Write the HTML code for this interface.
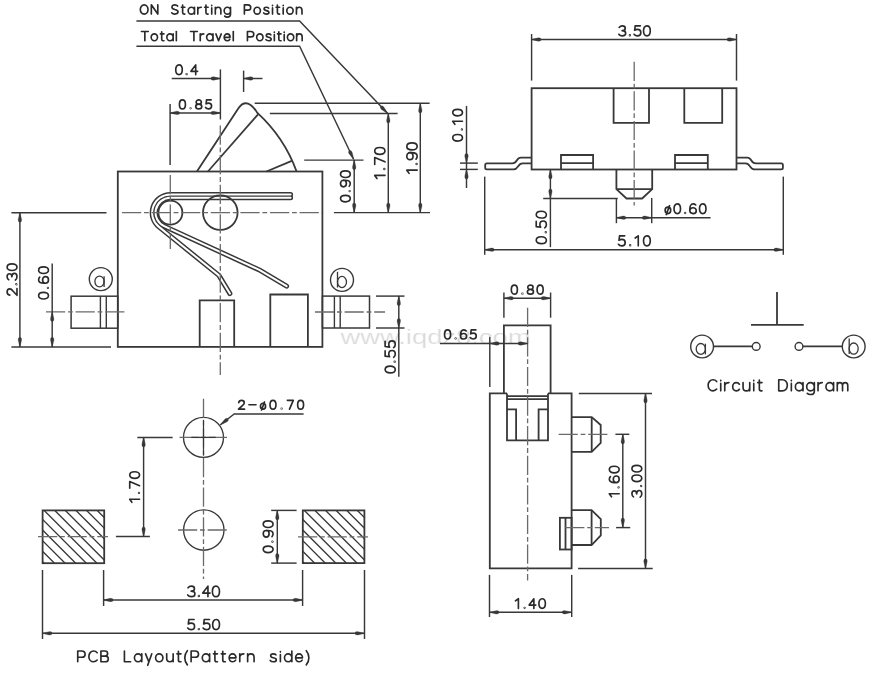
<!DOCTYPE html>
<html><head><meta charset="utf-8"><style>
html,body{margin:0;padding:0;background:#fff;}
svg{display:block;}
text{font-family:"Liberation Sans",sans-serif;fill:#111;stroke:#fff;stroke-width:0.22px;}
</style></head><body>
<svg width="872" height="675" viewBox="0 0 872 675">
<rect width="872" height="675" fill="#fff"/>
<text x="340.5" y="344" font-size="21" style="fill:#dadada;font-family:Liberation Sans,sans-serif" textLength="190" lengthAdjust="spacingAndGlyphs">www.iqdz8.com</text>
<rect x="117.8" y="171.5" width="204.6" height="175.4" fill="none" stroke="#383838" stroke-width="1.8"/>
<path d="M196.9,171.5 L238.6,108.0 C241.2,104.2 244.6,102.6 248.0,103.6 C251.6,104.8 254.6,108.4 257.4,112.9 A148.6,148.6 0 0 1 296.6,171.5" fill="none" stroke="#383838" stroke-width="1.8" stroke-linejoin="round"/>
<line x1="207.9" y1="171.5" x2="258.1" y2="114.3" stroke="#383838" stroke-width="1.8" />
<line x1="266.4" y1="171.5" x2="291.8" y2="160.8" stroke="#383838" stroke-width="1.8" />
<path d="M290.6,194.45 L170.40,194.45 A18.25,18.25 0 0 0 158.92,226.89 L218.90,275.40 L229.90,293.60" fill="none" stroke="#383838" stroke-width="5.0" stroke-linecap="round" stroke-linejoin="round"/>
<path d="M290.6,197.85 L170.40,197.85 A14.85,14.85 0 0 0 164.20,226.19 L259.30,269.90 L286.60,286.20" fill="none" stroke="#383838" stroke-width="5.0" stroke-linecap="round" stroke-linejoin="round"/>
<path d="M290.6,194.45 L170.40,194.45 A18.25,18.25 0 0 0 158.92,226.89 L218.90,275.40 L229.90,293.60" fill="none" stroke="#fff" stroke-width="2.0" stroke-linecap="round" stroke-linejoin="round"/>
<path d="M290.6,197.85 L170.40,197.85 A14.85,14.85 0 0 0 164.20,226.19 L259.30,269.90 L286.60,286.20" fill="none" stroke="#fff" stroke-width="2.0" stroke-linecap="round" stroke-linejoin="round"/>
<circle cx="220.3" cy="212.6" r="17.3" fill="none" stroke="#383838" stroke-width="1.8"/>
<circle cx="170.4" cy="212.7" r="12.0" fill="none" stroke="#383838" stroke-width="1.8"/>
<path d="M199.7,346.9 V300.3 H234.2 V346.9" fill="none" stroke="#383838" stroke-width="1.8" />
<path d="M270.3,346.9 V294.5 H307.9 V346.9" fill="none" stroke="#383838" stroke-width="1.8" />
<rect x="71.1" y="296.2" width="46.7" height="32.0" fill="none" stroke="#383838" stroke-width="1.5"/>
<line x1="100.4" y1="296.2" x2="100.4" y2="328.2" stroke="#383838" stroke-width="1.4" />
<line x1="106.3" y1="296.2" x2="106.3" y2="328.2" stroke="#383838" stroke-width="1.4" />
<rect x="322.4" y="296.1" width="47.1" height="31.9" fill="none" stroke="#383838" stroke-width="1.5"/>
<line x1="334.4" y1="296.1" x2="334.4" y2="328.0" stroke="#383838" stroke-width="1.4" />
<line x1="340.2" y1="296.1" x2="340.2" y2="328.0" stroke="#383838" stroke-width="1.4" />
<circle cx="100.8" cy="279.1" r="11.5" fill="none" stroke="#383838" stroke-width="1.4"/>
<circle cx="342.0" cy="279.9" r="11.5" fill="none" stroke="#383838" stroke-width="1.4"/>
<line x1="122.0" y1="212.7" x2="322.0" y2="212.7" stroke="#6a6a6a" stroke-width="1.3" stroke-dasharray="19.2 2.8 4.8 2.8"/>
<line x1="170.3" y1="175.0" x2="170.3" y2="249.0" stroke="#6a6a6a" stroke-width="1.3" stroke-dasharray="19.2 2.8 4.8 2.8"/>
<line x1="220.3" y1="125.5" x2="220.3" y2="375.0" stroke="#6a6a6a" stroke-width="1.3" stroke-dasharray="19.2 2.8 4.8 2.8"/>
<line x1="46.0" y1="311.9" x2="127.0" y2="311.9" stroke="#6a6a6a" stroke-width="1.3" stroke-dasharray="19.2 2.8 4.8 2.8"/>
<line x1="315.0" y1="312.0" x2="385.0" y2="312.0" stroke="#6a6a6a" stroke-width="1.3" stroke-dasharray="19.2 2.8 4.8 2.8"/>
<g fill="none" stroke="#2a2a2a" stroke-width="1.65" stroke-linecap="round" stroke-linejoin="round"><path vector-effect="non-scaling-stroke" transform="translate(140.32,4.83) scale(0.9620,0.9250)" d="M4,0 C6.3,0 8,2.2 8,5 C8,7.8 6.3,10 4,10 C1.7,10 0,7.8 0,5 C0,2.2 1.7,0 4,0 Z"/><path vector-effect="non-scaling-stroke" transform="translate(151.33,4.83) scale(0.9250,0.9250)" d="M0,10 V0 L7,10 V0"/><path vector-effect="non-scaling-stroke" transform="translate(171.68,4.83) scale(0.9620,0.9250)" d="M6.2,1.3 C5.6,0.5 4.6,0 3.3,0 C1.6,0 0.3,1 0.3,2.5 C0.3,4.1 1.7,4.6 3.3,5 C5.1,5.4 6.6,6 6.6,7.6 C6.6,9.1 5.2,10 3.3,10 C1.9,10 0.7,9.5 0,8.6"/><path vector-effect="non-scaling-stroke" transform="translate(181.34,4.83) scale(0.9250,0.9250)" d="M 1.4,0.3 V 8.23 C 1.4,9.34 2,10 3,10 H 3.8 M 0,2.6 H 3.8"/><path vector-effect="non-scaling-stroke" transform="translate(188.16,4.83) scale(0.9898,0.9250)" d="M 6.4,6.3 C 6.4,4.26 4.9664,2.6 3.2,2.6 C 1.4336,2.6 0,4.26 0,6.3 C 0,8.34 1.4336,10 3.2,10 C 4.9664,10 6.4,8.34 6.4,6.3 Z M 6.4,2.6 V 10"/><path vector-effect="non-scaling-stroke" transform="translate(197.81,4.83) scale(0.9250,0.9250)" d="M 0,2.6 V 10 M 0,5.8 C 0,3.81 1.4,2.6 3.8,2.6"/><path vector-effect="non-scaling-stroke" transform="translate(204.63,4.83) scale(0.9250,0.9250)" d="M 1.4,0.3 V 8.23 C 1.4,9.34 2,10 3,10 H 3.8 M 0,2.6 H 3.8"/><path vector-effect="non-scaling-stroke" transform="translate(211.45,4.83) scale(0.9250,0.9250)" d="M0.3,3.3 V10 M0.3,0.5 V1.0"/><path vector-effect="non-scaling-stroke" transform="translate(215.32,4.83) scale(0.9898,0.9250)" d="M 0,2.6 V 10 M 0,5.91 C 0,3.93 1.2,2.6 2.9,2.6 C 4.6,2.6 5.6,3.93 5.6,5.91 V 10"/><path vector-effect="non-scaling-stroke" transform="translate(224.17,4.83) scale(0.9898,0.9250)" d="M 6.4,6.3 C 6.4,4.26 4.9664,2.6 3.2,2.6 C 1.4336,2.6 0,4.26 0,6.3 C 0,8.34 1.4336,10 3.2,10 C 4.9664,10 6.4,8.34 6.4,6.3 Z M 6.4,2.6 V 10.3 C 6.4,12.1 5.1,13.3 3.2,13.3 C 2.1,13.3 1.1,12.9 0.5,12.2"/><path vector-effect="non-scaling-stroke" transform="translate(244.38,4.83) scale(0.9620,0.9250)" d="M0,10 V0 H3.6 C5.4,0 6.6,1.2 6.6,2.9 C6.6,4.6 5.4,5.8 3.6,5.8 H0"/><path vector-effect="non-scaling-stroke" transform="translate(254.04,4.83) scale(0.9898,0.9250)" d="M 6.4,6.3 C 6.4,4.26 4.9664,2.6 3.2,2.6 C 1.4336,2.6 0,4.26 0,6.3 C 0,8.34 1.4336,10 3.2,10 C 4.9664,10 6.4,8.34 6.4,6.3 Z"/><path vector-effect="non-scaling-stroke" transform="translate(263.68,4.83) scale(0.9898,0.9250)" d="M 5,3.59 C 4.6,2.93 3.8,2.6 2.7,2.6 C 1.3,2.6 0.4,3.26 0.4,4.37 C 0.4,5.58 1.4,6.02 2.7,6.24 C 4.2,6.47 5.3,7.02 5.3,8.23 C 5.3,9.34 4.2,10 2.7,10 C 1.5,10 0.5,9.56 0,8.79"/><path vector-effect="non-scaling-stroke" transform="translate(272.24,4.83) scale(0.9250,0.9250)" d="M0.3,3.3 V10 M0.3,0.5 V1.0"/><path vector-effect="non-scaling-stroke" transform="translate(276.10,4.83) scale(0.9250,0.9250)" d="M 1.4,0.3 V 8.23 C 1.4,9.34 2,10 3,10 H 3.8 M 0,2.6 H 3.8"/><path vector-effect="non-scaling-stroke" transform="translate(282.92,4.83) scale(0.9250,0.9250)" d="M0.3,3.3 V10 M0.3,0.5 V1.0"/><path vector-effect="non-scaling-stroke" transform="translate(286.79,4.83) scale(0.9898,0.9250)" d="M 6.4,6.3 C 6.4,4.26 4.9664,2.6 3.2,2.6 C 1.4336,2.6 0,4.26 0,6.3 C 0,8.34 1.4336,10 3.2,10 C 4.9664,10 6.4,8.34 6.4,6.3 Z"/><path vector-effect="non-scaling-stroke" transform="translate(296.43,4.83) scale(0.9898,0.9250)" d="M 0,2.6 V 10 M 0,5.91 C 0,3.93 1.2,2.6 2.9,2.6 C 4.6,2.6 5.6,3.93 5.6,5.91 V 10"/></g>
<g fill="none" stroke="#2a2a2a" stroke-width="1.65" stroke-linecap="round" stroke-linejoin="round"><path vector-effect="non-scaling-stroke" transform="translate(141.42,31.52) scale(0.9250,0.9250)" d="M0,0 H7.4 M3.7,0 V10"/><path vector-effect="non-scaling-stroke" transform="translate(151.17,31.52) scale(0.9898,0.9250)" d="M 6.4,6.3 C 6.4,4.26 4.9664,2.6 3.2,2.6 C 1.4336,2.6 0,4.26 0,6.3 C 0,8.34 1.4336,10 3.2,10 C 4.9664,10 6.4,8.34 6.4,6.3 Z"/><path vector-effect="non-scaling-stroke" transform="translate(160.41,31.52) scale(0.9250,0.9250)" d="M 1.4,0.3 V 8.23 C 1.4,9.34 2,10 3,10 H 3.8 M 0,2.6 H 3.8"/><path vector-effect="non-scaling-stroke" transform="translate(166.83,31.52) scale(0.9898,0.9250)" d="M 6.4,6.3 C 6.4,4.26 4.9664,2.6 3.2,2.6 C 1.4336,2.6 0,4.26 0,6.3 C 0,8.34 1.4336,10 3.2,10 C 4.9664,10 6.4,8.34 6.4,6.3 Z M 6.4,2.6 V 10"/><path vector-effect="non-scaling-stroke" transform="translate(176.06,31.52) scale(0.9250,0.9250)" d="M0.3,0 V10"/><path vector-effect="non-scaling-stroke" transform="translate(190.49,31.52) scale(0.9250,0.9250)" d="M0,0 H7.4 M3.7,0 V10"/><path vector-effect="non-scaling-stroke" transform="translate(200.24,31.52) scale(0.9250,0.9250)" d="M 0,2.6 V 10 M 0,5.8 C 0,3.81 1.4,2.6 3.8,2.6"/><path vector-effect="non-scaling-stroke" transform="translate(206.66,31.52) scale(0.9898,0.9250)" d="M 6.4,6.3 C 6.4,4.26 4.9664,2.6 3.2,2.6 C 1.4336,2.6 0,4.26 0,6.3 C 0,8.34 1.4336,10 3.2,10 C 4.9664,10 6.4,8.34 6.4,6.3 Z M 6.4,2.6 V 10"/><path vector-effect="non-scaling-stroke" transform="translate(215.89,31.52) scale(0.9250,0.9250)" d="M 0,2.6 L 2.9,10 L 5.8,2.6"/><path vector-effect="non-scaling-stroke" transform="translate(224.16,31.52) scale(0.9898,0.9250)" d="M 0,6.3 H 6 C 6,4.26 4.7,2.6 3,2.6 C 1.3,2.6 0,4.26 0,6.3 C 0,8.34 1.3,10 3,10 C 4.2,10 5.2,9.34 5.7,8.45"/><path vector-effect="non-scaling-stroke" transform="translate(233.00,31.52) scale(0.9250,0.9250)" d="M0.3,0 V10"/><path vector-effect="non-scaling-stroke" transform="translate(247.43,31.52) scale(0.9620,0.9250)" d="M0,10 V0 H3.6 C5.4,0 6.6,1.2 6.6,2.9 C6.6,4.6 5.4,5.8 3.6,5.8 H0"/><path vector-effect="non-scaling-stroke" transform="translate(256.68,31.52) scale(0.9898,0.9250)" d="M 6.4,6.3 C 6.4,4.26 4.9664,2.6 3.2,2.6 C 1.4336,2.6 0,4.26 0,6.3 C 0,8.34 1.4336,10 3.2,10 C 4.9664,10 6.4,8.34 6.4,6.3 Z"/><path vector-effect="non-scaling-stroke" transform="translate(265.92,31.52) scale(0.9898,0.9250)" d="M 5,3.59 C 4.6,2.93 3.8,2.6 2.7,2.6 C 1.3,2.6 0.4,3.26 0.4,4.37 C 0.4,5.58 1.4,6.02 2.7,6.24 C 4.2,6.47 5.3,7.02 5.3,8.23 C 5.3,9.34 4.2,10 2.7,10 C 1.5,10 0.5,9.56 0,8.79"/><path vector-effect="non-scaling-stroke" transform="translate(274.06,31.52) scale(0.9250,0.9250)" d="M0.3,3.3 V10 M0.3,0.5 V1.0"/><path vector-effect="non-scaling-stroke" transform="translate(277.52,31.52) scale(0.9250,0.9250)" d="M 1.4,0.3 V 8.23 C 1.4,9.34 2,10 3,10 H 3.8 M 0,2.6 H 3.8"/><path vector-effect="non-scaling-stroke" transform="translate(283.94,31.52) scale(0.9250,0.9250)" d="M0.3,3.3 V10 M0.3,0.5 V1.0"/><path vector-effect="non-scaling-stroke" transform="translate(287.40,31.52) scale(0.9898,0.9250)" d="M 6.4,6.3 C 6.4,4.26 4.9664,2.6 3.2,2.6 C 1.4336,2.6 0,4.26 0,6.3 C 0,8.34 1.4336,10 3.2,10 C 4.9664,10 6.4,8.34 6.4,6.3 Z"/><path vector-effect="non-scaling-stroke" transform="translate(296.63,31.52) scale(0.9898,0.9250)" d="M 0,2.6 V 10 M 0,5.91 C 0,3.93 1.2,2.6 2.9,2.6 C 4.6,2.6 5.6,3.93 5.6,5.91 V 10"/></g>
<path d="M136.4,20.9 H299.6 L387.5,113.3" fill="none" stroke="#383838" stroke-width="1.45" />
<path transform="translate(387.50,113.30) rotate(46.4)" d="M0.3,0 Q-3.5,1.0 -6.6,1.65 Q-9.6,2.0 -9.6,0 Q-9.6,-2.0 -6.6,-1.65 Q-3.5,-1.0 0.3,0 Z" fill="#383838" stroke="#383838" stroke-width="0.3"/>
<path d="M136.4,46.2 H299.6 L353.6,159.3" fill="none" stroke="#383838" stroke-width="1.45" />
<path transform="translate(353.60,159.30) rotate(64.5)" d="M0.3,0 Q-3.5,1.0 -6.6,1.65 Q-9.6,2.0 -9.6,0 Q-9.6,-2.0 -6.6,-1.65 Q-3.5,-1.0 0.3,0 Z" fill="#383838" stroke="#383838" stroke-width="0.3"/>
<g fill="none" stroke="#2a2a2a" stroke-width="1.65" stroke-linecap="round" stroke-linejoin="round"><path vector-effect="non-scaling-stroke" transform="translate(175.72,64.92) scale(1.0920,0.9750)" d="M3,0 C4.9,0 6,2.1 6,5 C6,7.9 4.9,10 3,10 C1.1,10 0,7.9 0,5 C0,2.1 1.1,0 3,0 Z"/><path vector-effect="non-scaling-stroke" transform="translate(185.13,64.92) scale(0.9750,0.9750)" d="M1.85,9.4 C1.85,9.206800000000001 1.6932,9.05 1.5,9.05 C1.3068,9.05 1.15,9.206800000000001 1.15,9.4 C1.15,9.5932 1.3068,9.75 1.5,9.75 C1.6932,9.75 1.85,9.5932 1.85,9.4 Z"/><path vector-effect="non-scaling-stroke" transform="translate(190.90,64.92) scale(1.0920,0.9750)" d="M4.4,10 V0 L0,6.6 H6.2"/></g>
<line x1="171.7" y1="78.5" x2="220.4" y2="78.5" stroke="#383838" stroke-width="1.45" />
<path transform="translate(220.40,78.50) rotate(0.0)" d="M0.3,0 Q-3.5,1.0 -6.6,1.65 Q-9.6,2.0 -9.6,0 Q-9.6,-2.0 -6.6,-1.65 Q-3.5,-1.0 0.3,0 Z" fill="#383838" stroke="#383838" stroke-width="0.3"/>
<line x1="220.4" y1="69.4" x2="220.4" y2="119.5" stroke="#383838" stroke-width="1.45" />
<line x1="243.6" y1="70.6" x2="243.6" y2="92.0" stroke="#383838" stroke-width="1.45" />
<line x1="243.6" y1="78.5" x2="262.5" y2="78.5" stroke="#383838" stroke-width="1.45" />
<path transform="translate(243.60,78.50) rotate(180.0)" d="M0.3,0 Q-3.5,1.0 -6.6,1.65 Q-9.6,2.0 -9.6,0 Q-9.6,-2.0 -6.6,-1.65 Q-3.5,-1.0 0.3,0 Z" fill="#383838" stroke="#383838" stroke-width="0.3"/>
<g fill="none" stroke="#2a2a2a" stroke-width="1.65" stroke-linecap="round" stroke-linejoin="round"><path vector-effect="non-scaling-stroke" transform="translate(179.42,99.92) scale(1.0024,0.8950)" d="M3,0 C4.9,0 6,2.1 6,5 C6,7.9 4.9,10 3,10 C1.1,10 0,7.9 0,5 C0,2.1 1.1,0 3,0 Z"/><path vector-effect="non-scaling-stroke" transform="translate(189.25,99.92) scale(0.8950,0.8950)" d="M1.85,9.4 C1.85,9.206800000000001 1.6932,9.05 1.5,9.05 C1.3068,9.05 1.15,9.206800000000001 1.15,9.4 C1.15,9.5932 1.3068,9.75 1.5,9.75 C1.6932,9.75 1.85,9.5932 1.85,9.4 Z"/><path vector-effect="non-scaling-stroke" transform="translate(195.74,99.92) scale(1.0024,0.8950)" d="M3,4.7 C1.5,4.7 0.4,3.7 0.4,2.35 C0.4,1 1.5,0 3,0 C4.5,0 5.6,1 5.6,2.35 C5.6,3.7 4.5,4.7 3,4.7 C1.3,4.7 0,5.8 0,7.35 C0,8.9 1.3,10 3,10 C4.7,10 6,8.9 6,7.35 C6,5.8 4.7,4.7 3,4.7 Z"/><path vector-effect="non-scaling-stroke" transform="translate(205.56,99.92) scale(1.0024,0.8950)" d="M5.6,0 H1 L0.5,4.4 C1.2,3.9 2.1,3.6 3,3.6 C4.8,3.6 6,4.9 6,6.8 C6,8.7 4.7,10 3,10 C1.7,10 0.6,9.4 0,8.4"/></g>
<line x1="170.1" y1="112.9" x2="220.4" y2="112.9" stroke="#383838" stroke-width="1.45" />
<path transform="translate(170.10,112.90) rotate(180.0)" d="M0.3,0 Q-3.5,1.0 -6.6,1.65 Q-9.6,2.0 -9.6,0 Q-9.6,-2.0 -6.6,-1.65 Q-3.5,-1.0 0.3,0 Z" fill="#383838" stroke="#383838" stroke-width="0.3"/>
<path transform="translate(220.40,112.90) rotate(0.0)" d="M0.3,0 Q-3.5,1.0 -6.6,1.65 Q-9.6,2.0 -9.6,0 Q-9.6,-2.0 -6.6,-1.65 Q-3.5,-1.0 0.3,0 Z" fill="#383838" stroke="#383838" stroke-width="0.3"/>
<line x1="170.1" y1="103.9" x2="170.1" y2="165.0" stroke="#383838" stroke-width="1.45" />
<line x1="254.7" y1="103.3" x2="429.6" y2="103.3" stroke="#383838" stroke-width="1.45" />
<line x1="269.8" y1="113.5" x2="397.6" y2="113.5" stroke="#383838" stroke-width="1.45" />
<line x1="304.2" y1="160.1" x2="363.5" y2="160.1" stroke="#383838" stroke-width="1.45" />
<line x1="333.9" y1="212.6" x2="430.0" y2="212.6" stroke="#383838" stroke-width="1.45" />
<line x1="354.2" y1="160.1" x2="354.2" y2="212.6" stroke="#383838" stroke-width="1.45" />
<path transform="translate(354.20,160.10) rotate(-90.0)" d="M0.3,0 Q-3.5,1.0 -6.6,1.65 Q-9.6,2.0 -9.6,0 Q-9.6,-2.0 -6.6,-1.65 Q-3.5,-1.0 0.3,0 Z" fill="#383838" stroke="#383838" stroke-width="0.3"/>
<path transform="translate(354.20,212.60) rotate(90.0)" d="M0.3,0 Q-3.5,1.0 -6.6,1.65 Q-9.6,2.0 -9.6,0 Q-9.6,-2.0 -6.6,-1.65 Q-3.5,-1.0 0.3,0 Z" fill="#383838" stroke="#383838" stroke-width="0.3"/>
<line x1="388.3" y1="113.5" x2="388.3" y2="212.6" stroke="#383838" stroke-width="1.45" />
<path transform="translate(388.30,113.50) rotate(-90.0)" d="M0.3,0 Q-3.5,1.0 -6.6,1.65 Q-9.6,2.0 -9.6,0 Q-9.6,-2.0 -6.6,-1.65 Q-3.5,-1.0 0.3,0 Z" fill="#383838" stroke="#383838" stroke-width="0.3"/>
<path transform="translate(388.30,212.60) rotate(90.0)" d="M0.3,0 Q-3.5,1.0 -6.6,1.65 Q-9.6,2.0 -9.6,0 Q-9.6,-2.0 -6.6,-1.65 Q-3.5,-1.0 0.3,0 Z" fill="#383838" stroke="#383838" stroke-width="0.3"/>
<line x1="420.3" y1="103.3" x2="420.3" y2="212.6" stroke="#383838" stroke-width="1.45" />
<path transform="translate(420.30,103.30) rotate(-90.0)" d="M0.3,0 Q-3.5,1.0 -6.6,1.65 Q-9.6,2.0 -9.6,0 Q-9.6,-2.0 -6.6,-1.65 Q-3.5,-1.0 0.3,0 Z" fill="#383838" stroke="#383838" stroke-width="0.3"/>
<path transform="translate(420.30,212.60) rotate(90.0)" d="M0.3,0 Q-3.5,1.0 -6.6,1.65 Q-9.6,2.0 -9.6,0 Q-9.6,-2.0 -6.6,-1.65 Q-3.5,-1.0 0.3,0 Z" fill="#383838" stroke="#383838" stroke-width="0.3"/>
<g transform="translate(339.70,202.70) rotate(-90)"><g fill="none" stroke="#2a2a2a" stroke-width="1.65" stroke-linecap="round" stroke-linejoin="round"><path vector-effect="non-scaling-stroke" transform="translate(0.82,0.82) scale(1.0920,0.9750)" d="M3,0 C4.9,0 6,2.1 6,5 C6,7.9 4.9,10 3,10 C1.1,10 0,7.9 0,5 C0,2.1 1.1,0 3,0 Z"/><path vector-effect="non-scaling-stroke" transform="translate(10.17,0.82) scale(0.9750,0.9750)" d="M1.85,9.4 C1.85,9.206800000000001 1.6932,9.05 1.5,9.05 C1.3068,9.05 1.15,9.206800000000001 1.15,9.4 C1.15,9.5932 1.3068,9.75 1.5,9.75 C1.6932,9.75 1.85,9.5932 1.85,9.4 Z"/><path vector-effect="non-scaling-stroke" transform="translate(15.88,0.82) scale(1.0920,0.9750)" d="M0.5,8.9 C1.1,9.6 2,10 3,10 C4.8,10 6,7.8 6,4.5 V3.1 C6,1.2 4.7,0 3,0 C1.3,0 0,1.2 0,3 C0,4.8 1.3,6 3,6 C4.7,6 6,4.8 6,3"/><path vector-effect="non-scaling-stroke" transform="translate(25.22,0.82) scale(1.0920,0.9750)" d="M3,0 C4.9,0 6,2.1 6,5 C6,7.9 4.9,10 3,10 C1.1,10 0,7.9 0,5 C0,2.1 1.1,0 3,0 Z"/></g></g>
<g transform="translate(373.90,179.40) rotate(-90)"><g fill="none" stroke="#2a2a2a" stroke-width="1.65" stroke-linecap="round" stroke-linejoin="round"><path vector-effect="non-scaling-stroke" transform="translate(0.82,0.82) scale(1.1275,1.0250)" d="M0,2.2 L2.8,0 V10"/><path vector-effect="non-scaling-stroke" transform="translate(8.87,0.82) scale(1.0250,1.0250)" d="M1.85,9.4 C1.85,9.206800000000001 1.6932,9.05 1.5,9.05 C1.3068,9.05 1.15,9.206800000000001 1.15,9.4 C1.15,9.5932 1.3068,9.75 1.5,9.75 C1.6932,9.75 1.85,9.5932 1.85,9.4 Z"/><path vector-effect="non-scaling-stroke" transform="translate(15.02,0.82) scale(1.1480,1.0250)" d="M0,0 H6 L2.2,10"/><path vector-effect="non-scaling-stroke" transform="translate(24.99,0.82) scale(1.1480,1.0250)" d="M3,0 C4.9,0 6,2.1 6,5 C6,7.9 4.9,10 3,10 C1.1,10 0,7.9 0,5 C0,2.1 1.1,0 3,0 Z"/></g></g>
<g transform="translate(406.00,174.20) rotate(-90)"><g fill="none" stroke="#2a2a2a" stroke-width="1.65" stroke-linecap="round" stroke-linejoin="round"><path vector-effect="non-scaling-stroke" transform="translate(0.82,0.82) scale(1.1385,1.0350)" d="M0,2.2 L2.8,0 V10"/><path vector-effect="non-scaling-stroke" transform="translate(8.64,0.82) scale(1.0350,1.0350)" d="M1.85,9.4 C1.85,9.206800000000001 1.6932,9.05 1.5,9.05 C1.3068,9.05 1.15,9.206800000000001 1.15,9.4 C1.15,9.5932 1.3068,9.75 1.5,9.75 C1.6932,9.75 1.85,9.5932 1.85,9.4 Z"/><path vector-effect="non-scaling-stroke" transform="translate(14.56,0.82) scale(1.1592,1.0350)" d="M0.5,8.9 C1.1,9.6 2,10 3,10 C4.8,10 6,7.8 6,4.5 V3.1 C6,1.2 4.7,0 3,0 C1.3,0 0,1.2 0,3 C0,4.8 1.3,6 3,6 C4.7,6 6,4.8 6,3"/><path vector-effect="non-scaling-stroke" transform="translate(24.32,0.82) scale(1.1592,1.0350)" d="M3,0 C4.9,0 6,2.1 6,5 C6,7.9 4.9,10 3,10 C1.1,10 0,7.9 0,5 C0,2.1 1.1,0 3,0 Z"/></g></g>
<line x1="11.4" y1="212.7" x2="106.5" y2="212.7" stroke="#383838" stroke-width="1.45" />
<line x1="11.4" y1="346.9" x2="111.0" y2="346.9" stroke="#383838" stroke-width="1.45" />
<line x1="19.9" y1="212.7" x2="19.9" y2="346.9" stroke="#383838" stroke-width="1.45" />
<path transform="translate(19.90,212.70) rotate(-90.0)" d="M0.3,0 Q-3.5,1.0 -6.6,1.65 Q-9.6,2.0 -9.6,0 Q-9.6,-2.0 -6.6,-1.65 Q-3.5,-1.0 0.3,0 Z" fill="#383838" stroke="#383838" stroke-width="0.3"/>
<path transform="translate(19.90,346.90) rotate(90.0)" d="M0.3,0 Q-3.5,1.0 -6.6,1.65 Q-9.6,2.0 -9.6,0 Q-9.6,-2.0 -6.6,-1.65 Q-3.5,-1.0 0.3,0 Z" fill="#383838" stroke="#383838" stroke-width="0.3"/>
<g transform="translate(6.30,296.10) rotate(-90)"><g fill="none" stroke="#2a2a2a" stroke-width="1.65" stroke-linecap="round" stroke-linejoin="round"><path vector-effect="non-scaling-stroke" transform="translate(0.82,0.82) scale(1.1032,0.9850)" d="M0.2,2.7 C0.4,1.1 1.5,0 3,0 C4.6,0 5.8,1.1 5.8,2.7 C5.8,4 5.1,4.9 3.9,5.9 L0,10 H6.1"/><path vector-effect="non-scaling-stroke" transform="translate(10.33,0.82) scale(0.9850,0.9850)" d="M1.85,9.4 C1.85,9.206800000000001 1.6932,9.05 1.5,9.05 C1.3068,9.05 1.15,9.206800000000001 1.15,9.4 C1.15,9.5932 1.3068,9.75 1.5,9.75 C1.6932,9.75 1.85,9.5932 1.85,9.4 Z"/><path vector-effect="non-scaling-stroke" transform="translate(16.05,0.82) scale(1.1032,0.9850)" d="M0.3,1.6 C0.9,0.6 1.9,0 3.1,0 C4.6,0 5.7,1 5.7,2.4 C5.7,3.8 4.6,4.8 2.9,4.8 C4.8,4.8 6.1,5.8 6.1,7.4 C6.1,9 4.8,10 3.1,10 C1.8,10 0.6,9.4 0,8.4"/><path vector-effect="non-scaling-stroke" transform="translate(25.56,0.82) scale(1.1032,0.9850)" d="M3,0 C4.9,0 6,2.1 6,5 C6,7.9 4.9,10 3,10 C1.1,10 0,7.9 0,5 C0,2.1 1.1,0 3,0 Z"/></g></g>
<line x1="52.2" y1="263.4" x2="52.2" y2="346.9" stroke="#383838" stroke-width="1.45" />
<path transform="translate(52.20,311.90) rotate(-90.0)" d="M0.3,0 Q-3.5,1.0 -6.6,1.65 Q-9.6,2.0 -9.6,0 Q-9.6,-2.0 -6.6,-1.65 Q-3.5,-1.0 0.3,0 Z" fill="#383838" stroke="#383838" stroke-width="0.3"/>
<path transform="translate(52.20,346.90) rotate(90.0)" d="M0.3,0 Q-3.5,1.0 -6.6,1.65 Q-9.6,2.0 -9.6,0 Q-9.6,-2.0 -6.6,-1.65 Q-3.5,-1.0 0.3,0 Z" fill="#383838" stroke="#383838" stroke-width="0.3"/>
<g transform="translate(37.80,299.80) rotate(-90)"><g fill="none" stroke="#2a2a2a" stroke-width="1.65" stroke-linecap="round" stroke-linejoin="round"><path vector-effect="non-scaling-stroke" transform="translate(0.82,0.82) scale(1.1032,0.9850)" d="M3,0 C4.9,0 6,2.1 6,5 C6,7.9 4.9,10 3,10 C1.1,10 0,7.9 0,5 C0,2.1 1.1,0 3,0 Z"/><path vector-effect="non-scaling-stroke" transform="translate(10.52,0.82) scale(0.9850,0.9850)" d="M1.85,9.4 C1.85,9.206800000000001 1.6932,9.05 1.5,9.05 C1.3068,9.05 1.15,9.206800000000001 1.15,9.4 C1.15,9.5932 1.3068,9.75 1.5,9.75 C1.6932,9.75 1.85,9.5932 1.85,9.4 Z"/><path vector-effect="non-scaling-stroke" transform="translate(16.56,0.82) scale(1.1032,0.9850)" d="M5.5,1.1 C4.9,0.4 4,0 3,0 C1.2,0 0,2.2 0,5.5 V6.9 C0,8.8 1.3,10 3,10 C4.7,10 6,8.8 6,7 C6,5.2 4.7,4 3,4 C1.3,4 0,5.2 0,7"/><path vector-effect="non-scaling-stroke" transform="translate(26.26,0.82) scale(1.1032,0.9850)" d="M3,0 C4.9,0 6,2.1 6,5 C6,7.9 4.9,10 3,10 C1.1,10 0,7.9 0,5 C0,2.1 1.1,0 3,0 Z"/></g></g>
<line x1="376.0" y1="296.1" x2="404.5" y2="296.1" stroke="#383838" stroke-width="1.45" />
<line x1="376.0" y1="328.0" x2="404.5" y2="328.0" stroke="#383838" stroke-width="1.45" />
<line x1="398.8" y1="296.1" x2="398.8" y2="376.7" stroke="#383838" stroke-width="1.45" />
<path transform="translate(398.80,296.10) rotate(-90.0)" d="M0.3,0 Q-3.5,1.0 -6.6,1.65 Q-9.6,2.0 -9.6,0 Q-9.6,-2.0 -6.6,-1.65 Q-3.5,-1.0 0.3,0 Z" fill="#383838" stroke="#383838" stroke-width="0.3"/>
<path transform="translate(398.80,328.00) rotate(90.0)" d="M0.3,0 Q-3.5,1.0 -6.6,1.65 Q-9.6,2.0 -9.6,0 Q-9.6,-2.0 -6.6,-1.65 Q-3.5,-1.0 0.3,0 Z" fill="#383838" stroke="#383838" stroke-width="0.3"/>
<g transform="translate(384.30,373.70) rotate(-90)"><g fill="none" stroke="#2a2a2a" stroke-width="1.65" stroke-linecap="round" stroke-linejoin="round"><path vector-effect="non-scaling-stroke" transform="translate(0.82,0.82) scale(1.1368,1.0150)" d="M3,0 C4.9,0 6,2.1 6,5 C6,7.9 4.9,10 3,10 C1.1,10 0,7.9 0,5 C0,2.1 1.1,0 3,0 Z"/><path vector-effect="non-scaling-stroke" transform="translate(10.49,0.82) scale(1.0150,1.0150)" d="M1.85,9.4 C1.85,9.206800000000001 1.6932,9.05 1.5,9.05 C1.3068,9.05 1.15,9.206800000000001 1.15,9.4 C1.15,9.5932 1.3068,9.75 1.5,9.75 C1.6932,9.75 1.85,9.5932 1.85,9.4 Z"/><path vector-effect="non-scaling-stroke" transform="translate(16.39,0.82) scale(1.1368,1.0150)" d="M5.6,0 H1 L0.5,4.4 C1.2,3.9 2.1,3.6 3,3.6 C4.8,3.6 6,4.9 6,6.8 C6,8.7 4.7,10 3,10 C1.7,10 0.6,9.4 0,8.4"/><path vector-effect="non-scaling-stroke" transform="translate(26.05,0.82) scale(1.1368,1.0150)" d="M5.6,0 H1 L0.5,4.4 C1.2,3.9 2.1,3.6 3,3.6 C4.8,3.6 6,4.9 6,6.8 C6,8.7 4.7,10 3,10 C1.7,10 0.6,9.4 0,8.4"/></g></g>
<rect x="531.6" y="88.2" width="204.9" height="81.3" fill="none" stroke="#383838" stroke-width="1.8"/>
<path d="M613.6,88.2 V122.8 H649.0 V88.2" fill="none" stroke="#383838" stroke-width="1.8" />
<path d="M684.3,88.2 V122.8 H722.2 V88.2" fill="none" stroke="#383838" stroke-width="1.8" />
<path d="M561.0,169.5 V155.0 H593.1 V169.5" fill="none" stroke="#383838" stroke-width="1.8" />
<line x1="561.0" y1="163.1" x2="593.1" y2="163.1" stroke="#383838" stroke-width="1.8" />
<path d="M675.0,169.5 V155.0 H707.8 V169.5" fill="none" stroke="#383838" stroke-width="1.8" />
<line x1="675.0" y1="163.1" x2="707.8" y2="163.1" stroke="#383838" stroke-width="1.8" />
<path d="M616.4,169.5 V189.2 L626.5,198.5 H642.1 L652.2,189.2 V169.5" fill="none" stroke="#383838" stroke-width="1.8" />
<line x1="616.4" y1="189.2" x2="652.2" y2="189.2" stroke="#383838" stroke-width="1.8" />
<line x1="634.2" y1="61.7" x2="634.2" y2="205.6" stroke="#6a6a6a" stroke-width="1.3" stroke-dasharray="19.2 2.8 4.8 2.8"/>
<path d="M531.6,157.6 H521.0 C516.0,157.6 517.5,163.4 512.5,163.4 H486.8 Q485.2,163.4 485.2,165.0 V167.8 Q485.2,169.4 486.8,169.4 H513.5 C518.5,169.4 517.5,163.4 522.5,163.4 H531.6" fill="none" stroke="#383838" stroke-width="1.8" stroke-linejoin="round"/>
<path d="M736.5,157.6 H747.1 C752.1,157.6 750.6,163.4 755.6,163.4 H781.3 Q782.9,163.4 782.9,165.0 V167.8 Q782.9,169.4 781.3,169.4 H754.6 C749.6,169.4 750.6,163.4 745.6,163.4 H736.5" fill="none" stroke="#383838" stroke-width="1.8" stroke-linejoin="round"/>
<line x1="531.6" y1="34.0" x2="531.6" y2="80.6" stroke="#383838" stroke-width="1.45" />
<line x1="736.5" y1="34.0" x2="736.5" y2="80.6" stroke="#383838" stroke-width="1.45" />
<line x1="531.6" y1="39.5" x2="736.5" y2="39.5" stroke="#383838" stroke-width="1.45" />
<path transform="translate(531.60,39.50) rotate(180.0)" d="M0.3,0 Q-3.5,1.0 -6.6,1.65 Q-9.6,2.0 -9.6,0 Q-9.6,-2.0 -6.6,-1.65 Q-3.5,-1.0 0.3,0 Z" fill="#383838" stroke="#383838" stroke-width="0.3"/>
<path transform="translate(736.50,39.50) rotate(0.0)" d="M0.3,0 Q-3.5,1.0 -6.6,1.65 Q-9.6,2.0 -9.6,0 Q-9.6,-2.0 -6.6,-1.65 Q-3.5,-1.0 0.3,0 Z" fill="#383838" stroke="#383838" stroke-width="0.3"/>
<g fill="none" stroke="#2a2a2a" stroke-width="1.65" stroke-linecap="round" stroke-linejoin="round"><path vector-effect="non-scaling-stroke" transform="translate(618.83,25.82) scale(1.1256,1.0050)" d="M0.3,1.6 C0.9,0.6 1.9,0 3.1,0 C4.6,0 5.7,1 5.7,2.4 C5.7,3.8 4.6,4.8 2.9,4.8 C4.8,4.8 6.1,5.8 6.1,7.4 C6.1,9 4.8,10 3.1,10 C1.8,10 0.6,9.4 0,8.4"/><path vector-effect="non-scaling-stroke" transform="translate(628.38,25.82) scale(1.0050,1.0050)" d="M1.85,9.4 C1.85,9.206800000000001 1.6932,9.05 1.5,9.05 C1.3068,9.05 1.15,9.206800000000001 1.15,9.4 C1.15,9.5932 1.3068,9.75 1.5,9.75 C1.6932,9.75 1.85,9.5932 1.85,9.4 Z"/><path vector-effect="non-scaling-stroke" transform="translate(634.08,25.82) scale(1.1256,1.0050)" d="M5.6,0 H1 L0.5,4.4 C1.2,3.9 2.1,3.6 3,3.6 C4.8,3.6 6,4.9 6,6.8 C6,8.7 4.7,10 3,10 C1.7,10 0.6,9.4 0,8.4"/><path vector-effect="non-scaling-stroke" transform="translate(643.52,25.82) scale(1.1256,1.0050)" d="M3,0 C4.9,0 6,2.1 6,5 C6,7.9 4.9,10 3,10 C1.1,10 0,7.9 0,5 C0,2.1 1.1,0 3,0 Z"/></g>
<line x1="460.0" y1="163.1" x2="477.8" y2="163.1" stroke="#383838" stroke-width="1.45" />
<line x1="460.0" y1="169.4" x2="477.8" y2="169.4" stroke="#383838" stroke-width="1.45" />
<line x1="466.5" y1="105.9" x2="466.5" y2="188.0" stroke="#383838" stroke-width="1.45" />
<path transform="translate(466.50,163.10) rotate(90.0)" d="M0.3,0 Q-3.5,1.0 -6.6,1.65 Q-9.6,2.0 -9.6,0 Q-9.6,-2.0 -6.6,-1.65 Q-3.5,-1.0 0.3,0 Z" fill="#383838" stroke="#383838" stroke-width="0.3"/>
<path transform="translate(466.50,169.40) rotate(-90.0)" d="M0.3,0 Q-3.5,1.0 -6.6,1.65 Q-9.6,2.0 -9.6,0 Q-9.6,-2.0 -6.6,-1.65 Q-3.5,-1.0 0.3,0 Z" fill="#383838" stroke="#383838" stroke-width="0.3"/>
<g transform="translate(451.90,141.90) rotate(-90)"><g fill="none" stroke="#2a2a2a" stroke-width="1.65" stroke-linecap="round" stroke-linejoin="round"><path vector-effect="non-scaling-stroke" transform="translate(0.82,0.82) scale(1.0920,0.9750)" d="M3,0 C4.9,0 6,2.1 6,5 C6,7.9 4.9,10 3,10 C1.1,10 0,7.9 0,5 C0,2.1 1.1,0 3,0 Z"/><path vector-effect="non-scaling-stroke" transform="translate(11.04,0.82) scale(0.9750,0.9750)" d="M1.85,9.4 C1.85,9.206800000000001 1.6932,9.05 1.5,9.05 C1.3068,9.05 1.15,9.206800000000001 1.15,9.4 C1.15,9.5932 1.3068,9.75 1.5,9.75 C1.6932,9.75 1.85,9.5932 1.85,9.4 Z"/><path vector-effect="non-scaling-stroke" transform="translate(17.64,0.82) scale(1.0725,0.9750)" d="M0,2.2 L2.8,0 V10"/><path vector-effect="non-scaling-stroke" transform="translate(26.02,0.82) scale(1.0920,0.9750)" d="M3,0 C4.9,0 6,2.1 6,5 C6,7.9 4.9,10 3,10 C1.1,10 0,7.9 0,5 C0,2.1 1.1,0 3,0 Z"/></g></g>
<line x1="543.2" y1="198.5" x2="617.7" y2="198.5" stroke="#383838" stroke-width="1.45" />
<line x1="550.4" y1="169.5" x2="550.4" y2="247.2" stroke="#383838" stroke-width="1.45" />
<path transform="translate(550.40,169.50) rotate(-90.0)" d="M0.3,0 Q-3.5,1.0 -6.6,1.65 Q-9.6,2.0 -9.6,0 Q-9.6,-2.0 -6.6,-1.65 Q-3.5,-1.0 0.3,0 Z" fill="#383838" stroke="#383838" stroke-width="0.3"/>
<path transform="translate(550.40,198.50) rotate(90.0)" d="M0.3,0 Q-3.5,1.0 -6.6,1.65 Q-9.6,2.0 -9.6,0 Q-9.6,-2.0 -6.6,-1.65 Q-3.5,-1.0 0.3,0 Z" fill="#383838" stroke="#383838" stroke-width="0.3"/>
<g transform="translate(535.40,244.40) rotate(-90)"><g fill="none" stroke="#2a2a2a" stroke-width="1.65" stroke-linecap="round" stroke-linejoin="round"><path vector-effect="non-scaling-stroke" transform="translate(0.82,0.82) scale(1.1368,1.0150)" d="M3,0 C4.9,0 6,2.1 6,5 C6,7.9 4.9,10 3,10 C1.1,10 0,7.9 0,5 C0,2.1 1.1,0 3,0 Z"/><path vector-effect="non-scaling-stroke" transform="translate(10.59,0.82) scale(1.0150,1.0150)" d="M1.85,9.4 C1.85,9.206800000000001 1.6932,9.05 1.5,9.05 C1.3068,9.05 1.15,9.206800000000001 1.15,9.4 C1.15,9.5932 1.3068,9.75 1.5,9.75 C1.6932,9.75 1.85,9.5932 1.85,9.4 Z"/><path vector-effect="non-scaling-stroke" transform="translate(16.59,0.82) scale(1.1368,1.0150)" d="M5.6,0 H1 L0.5,4.4 C1.2,3.9 2.1,3.6 3,3.6 C4.8,3.6 6,4.9 6,6.8 C6,8.7 4.7,10 3,10 C1.7,10 0.6,9.4 0,8.4"/><path vector-effect="non-scaling-stroke" transform="translate(26.35,0.82) scale(1.1368,1.0150)" d="M3,0 C4.9,0 6,2.1 6,5 C6,7.9 4.9,10 3,10 C1.1,10 0,7.9 0,5 C0,2.1 1.1,0 3,0 Z"/></g></g>
<line x1="616.4" y1="198.0" x2="616.4" y2="223.2" stroke="#383838" stroke-width="1.45" />
<line x1="651.7" y1="198.0" x2="651.7" y2="223.2" stroke="#383838" stroke-width="1.45" />
<line x1="616.4" y1="217.7" x2="710.6" y2="217.7" stroke="#383838" stroke-width="1.45" />
<path transform="translate(616.40,217.70) rotate(180.0)" d="M0.3,0 Q-3.5,1.0 -6.6,1.65 Q-9.6,2.0 -9.6,0 Q-9.6,-2.0 -6.6,-1.65 Q-3.5,-1.0 0.3,0 Z" fill="#383838" stroke="#383838" stroke-width="0.3"/>
<path transform="translate(651.70,217.70) rotate(0.0)" d="M0.3,0 Q-3.5,1.0 -6.6,1.65 Q-9.6,2.0 -9.6,0 Q-9.6,-2.0 -6.6,-1.65 Q-3.5,-1.0 0.3,0 Z" fill="#383838" stroke="#383838" stroke-width="0.3"/>
<g fill="none" stroke="#2a2a2a" stroke-width="1.65" stroke-linecap="round" stroke-linejoin="round"><path vector-effect="non-scaling-stroke" transform="translate(665.03,203.92) scale(0.9650,0.9650)" d="M5.9,6.65 C5.9,4.800800000000001 4.6008,3.3000000000000003 3,3.3000000000000003 C1.3992,3.3000000000000003 0.10000000000000009,4.800800000000001 0.10000000000000009,6.65 C0.10000000000000009,8.4992 1.3992,10.0 3,10.0 C4.6008,10.0 5.9,8.4992 5.9,6.65 Z M1.3,11 L4.7,1.8"/><path vector-effect="non-scaling-stroke" transform="translate(674.02,203.92) scale(1.0808,0.9650)" d="M3,0 C4.9,0 6,2.1 6,5 C6,7.9 4.9,10 3,10 C1.1,10 0,7.9 0,5 C0,2.1 1.1,0 3,0 Z"/><path vector-effect="non-scaling-stroke" transform="translate(683.71,203.92) scale(0.9650,0.9650)" d="M1.85,9.4 C1.85,9.206800000000001 1.6932,9.05 1.5,9.05 C1.3068,9.05 1.15,9.206800000000001 1.15,9.4 C1.15,9.5932 1.3068,9.75 1.5,9.75 C1.6932,9.75 1.85,9.5932 1.85,9.4 Z"/><path vector-effect="non-scaling-stroke" transform="translate(689.80,203.92) scale(1.0808,0.9650)" d="M5.5,1.1 C4.9,0.4 4,0 3,0 C1.2,0 0,2.2 0,5.5 V6.9 C0,8.8 1.3,10 3,10 C4.7,10 6,8.8 6,7 C6,5.2 4.7,4 3,4 C1.3,4 0,5.2 0,7"/><path vector-effect="non-scaling-stroke" transform="translate(699.49,203.92) scale(1.0808,0.9650)" d="M3,0 C4.9,0 6,2.1 6,5 C6,7.9 4.9,10 3,10 C1.1,10 0,7.9 0,5 C0,2.1 1.1,0 3,0 Z"/></g>
<line x1="484.7" y1="176.6" x2="484.7" y2="254.8" stroke="#383838" stroke-width="1.45" />
<line x1="783.3" y1="176.6" x2="783.3" y2="254.8" stroke="#383838" stroke-width="1.45" />
<line x1="484.7" y1="249.7" x2="783.3" y2="249.7" stroke="#383838" stroke-width="1.45" />
<path transform="translate(484.70,249.70) rotate(180.0)" d="M0.3,0 Q-3.5,1.0 -6.6,1.65 Q-9.6,2.0 -9.6,0 Q-9.6,-2.0 -6.6,-1.65 Q-3.5,-1.0 0.3,0 Z" fill="#383838" stroke="#383838" stroke-width="0.3"/>
<path transform="translate(783.30,249.70) rotate(0.0)" d="M0.3,0 Q-3.5,1.0 -6.6,1.65 Q-9.6,2.0 -9.6,0 Q-9.6,-2.0 -6.6,-1.65 Q-3.5,-1.0 0.3,0 Z" fill="#383838" stroke="#383838" stroke-width="0.3"/>
<g fill="none" stroke="#2a2a2a" stroke-width="1.65" stroke-linecap="round" stroke-linejoin="round"><path vector-effect="non-scaling-stroke" transform="translate(618.43,235.82) scale(1.1256,1.0050)" d="M5.6,0 H1 L0.5,4.4 C1.2,3.9 2.1,3.6 3,3.6 C4.8,3.6 6,4.9 6,6.8 C6,8.7 4.7,10 3,10 C1.7,10 0.6,9.4 0,8.4"/><path vector-effect="non-scaling-stroke" transform="translate(628.67,235.82) scale(1.0050,1.0050)" d="M1.85,9.4 C1.85,9.206800000000001 1.6932,9.05 1.5,9.05 C1.3068,9.05 1.15,9.206800000000001 1.15,9.4 C1.15,9.5932 1.3068,9.75 1.5,9.75 C1.6932,9.75 1.85,9.5932 1.85,9.4 Z"/><path vector-effect="non-scaling-stroke" transform="translate(635.17,235.82) scale(1.1055,1.0050)" d="M0,2.2 L2.8,0 V10"/><path vector-effect="non-scaling-stroke" transform="translate(643.52,235.82) scale(1.1256,1.0050)" d="M3,0 C4.9,0 6,2.1 6,5 C6,7.9 4.9,10 3,10 C1.1,10 0,7.9 0,5 C0,2.1 1.1,0 3,0 Z"/></g>
<path d="M503.9,393.4 V325.3 H550.6 V393.4" fill="none" stroke="#383838" stroke-width="1.8" />
<path d="M507.0,393.4 H489.8 V568.4 H571.6 V393.4 H548.0" fill="none" stroke="#383838" stroke-width="1.8" />
<line x1="507.0" y1="396.1" x2="548.0" y2="396.1" stroke="#383838" stroke-width="1.8" />
<line x1="507.0" y1="399.2" x2="548.0" y2="399.2" stroke="#383838" stroke-width="1.8" />
<path d="M507.0,393.4 V440.4 H548.0 V393.4" fill="none" stroke="#383838" stroke-width="1.8" />
<path d="M507.0,409.4 H516.1 V440.4" fill="none" stroke="#383838" stroke-width="1.8" />
<path d="M548.0,409.4 H538.6 V440.4" fill="none" stroke="#383838" stroke-width="1.8" />
<line x1="527.6" y1="307.7" x2="527.6" y2="580.5" stroke="#6a6a6a" stroke-width="1.3" stroke-dasharray="19.2 2.8 4.8 2.8"/>
<path d="M571.6,417.1 H591.7 L600.7,425.0 V442.9 L591.7,451.9 H571.6" fill="none" stroke="#383838" stroke-width="1.8" />
<line x1="591.7" y1="417.1" x2="591.7" y2="451.9" stroke="#383838" stroke-width="1.8" />
<path d="M571.6,510.2 H591.6 L600.8,519.2 V535.3 L591.6,545.0 H571.6" fill="none" stroke="#383838" stroke-width="1.8" />
<line x1="591.6" y1="510.2" x2="591.6" y2="545.0" stroke="#383838" stroke-width="1.8" />
<rect x="559.9" y="517.8" width="11.7" height="31.7" fill="none" stroke="#383838" stroke-width="1.8"/>
<line x1="565.5" y1="517.8" x2="565.5" y2="549.5" stroke="#383838" stroke-width="1.8" />
<line x1="558.6" y1="434.3" x2="609.0" y2="434.3" stroke="#6a6a6a" stroke-width="1.3" stroke-dasharray="19.2 2.8 4.8 2.8"/>
<line x1="565.2" y1="527.6" x2="609.0" y2="527.6" stroke="#6a6a6a" stroke-width="1.3" stroke-dasharray="19.2 2.8 4.8 2.8"/>
<line x1="503.9" y1="292.5" x2="503.9" y2="317.7" stroke="#383838" stroke-width="1.45" />
<line x1="550.6" y1="292.5" x2="550.6" y2="317.7" stroke="#383838" stroke-width="1.45" />
<line x1="503.9" y1="298.2" x2="550.6" y2="298.2" stroke="#383838" stroke-width="1.45" />
<path transform="translate(503.90,298.20) rotate(180.0)" d="M0.3,0 Q-3.5,1.0 -6.6,1.65 Q-9.6,2.0 -9.6,0 Q-9.6,-2.0 -6.6,-1.65 Q-3.5,-1.0 0.3,0 Z" fill="#383838" stroke="#383838" stroke-width="0.3"/>
<path transform="translate(550.60,298.20) rotate(0.0)" d="M0.3,0 Q-3.5,1.0 -6.6,1.65 Q-9.6,2.0 -9.6,0 Q-9.6,-2.0 -6.6,-1.65 Q-3.5,-1.0 0.3,0 Z" fill="#383838" stroke="#383838" stroke-width="0.3"/>
<g fill="none" stroke="#2a2a2a" stroke-width="1.65" stroke-linecap="round" stroke-linejoin="round"><path vector-effect="non-scaling-stroke" transform="translate(511.32,285.12) scale(1.0136,0.9050)" d="M3,0 C4.9,0 6,2.1 6,5 C6,7.9 4.9,10 3,10 C1.1,10 0,7.9 0,5 C0,2.1 1.1,0 3,0 Z"/><path vector-effect="non-scaling-stroke" transform="translate(521.04,285.12) scale(0.9050,0.9050)" d="M1.85,9.4 C1.85,9.206800000000001 1.6932,9.05 1.5,9.05 C1.3068,9.05 1.15,9.206800000000001 1.15,9.4 C1.15,9.5932 1.3068,9.75 1.5,9.75 C1.6932,9.75 1.85,9.5932 1.85,9.4 Z"/><path vector-effect="non-scaling-stroke" transform="translate(527.38,285.12) scale(1.0136,0.9050)" d="M3,4.7 C1.5,4.7 0.4,3.7 0.4,2.35 C0.4,1 1.5,0 3,0 C4.5,0 5.6,1 5.6,2.35 C5.6,3.7 4.5,4.7 3,4.7 C1.3,4.7 0,5.8 0,7.35 C0,8.9 1.3,10 3,10 C4.7,10 6,8.9 6,7.35 C6,5.8 4.7,4.7 3,4.7 Z"/><path vector-effect="non-scaling-stroke" transform="translate(537.09,285.12) scale(1.0136,0.9050)" d="M3,0 C4.9,0 6,2.1 6,5 C6,7.9 4.9,10 3,10 C1.1,10 0,7.9 0,5 C0,2.1 1.1,0 3,0 Z"/></g>
<line x1="440.0" y1="343.5" x2="527.6" y2="343.5" stroke="#383838" stroke-width="1.45" />
<line x1="489.8" y1="336.7" x2="489.8" y2="387.1" stroke="#383838" stroke-width="1.45" />
<path transform="translate(489.80,343.50) rotate(180.0)" d="M0.3,0 Q-3.5,1.0 -6.6,1.65 Q-9.6,2.0 -9.6,0 Q-9.6,-2.0 -6.6,-1.65 Q-3.5,-1.0 0.3,0 Z" fill="#383838" stroke="#383838" stroke-width="0.3"/>
<path transform="translate(527.60,343.50) rotate(0.0)" d="M0.3,0 Q-3.5,1.0 -6.6,1.65 Q-9.6,2.0 -9.6,0 Q-9.6,-2.0 -6.6,-1.65 Q-3.5,-1.0 0.3,0 Z" fill="#383838" stroke="#383838" stroke-width="0.3"/>
<g fill="none" stroke="#2a2a2a" stroke-width="1.65" stroke-linecap="round" stroke-linejoin="round"><path vector-effect="non-scaling-stroke" transform="translate(444.52,329.93) scale(1.0136,0.9050)" d="M3,0 C4.9,0 6,2.1 6,5 C6,7.9 4.9,10 3,10 C1.1,10 0,7.9 0,5 C0,2.1 1.1,0 3,0 Z"/><path vector-effect="non-scaling-stroke" transform="translate(454.20,329.93) scale(0.9050,0.9050)" d="M1.85,9.4 C1.85,9.206800000000001 1.6932,9.05 1.5,9.05 C1.3068,9.05 1.15,9.206800000000001 1.15,9.4 C1.15,9.5932 1.3068,9.75 1.5,9.75 C1.6932,9.75 1.85,9.5932 1.85,9.4 Z"/><path vector-effect="non-scaling-stroke" transform="translate(460.52,329.93) scale(1.0136,0.9050)" d="M5.5,1.1 C4.9,0.4 4,0 3,0 C1.2,0 0,2.2 0,5.5 V6.9 C0,8.8 1.3,10 3,10 C4.7,10 6,8.8 6,7 C6,5.2 4.7,4 3,4 C1.3,4 0,5.2 0,7"/><path vector-effect="non-scaling-stroke" transform="translate(470.19,329.93) scale(1.0136,0.9050)" d="M5.6,0 H1 L0.5,4.4 C1.2,3.9 2.1,3.6 3,3.6 C4.8,3.6 6,4.9 6,6.8 C6,8.7 4.7,10 3,10 C1.7,10 0.6,9.4 0,8.4"/></g>
<line x1="615.4" y1="434.3" x2="629.3" y2="434.3" stroke="#383838" stroke-width="1.45" />
<line x1="616.1" y1="527.6" x2="630.2" y2="527.6" stroke="#383838" stroke-width="1.45" />
<line x1="622.8" y1="434.3" x2="622.8" y2="527.6" stroke="#383838" stroke-width="1.45" />
<path transform="translate(622.80,434.30) rotate(-90.0)" d="M0.3,0 Q-3.5,1.0 -6.6,1.65 Q-9.6,2.0 -9.6,0 Q-9.6,-2.0 -6.6,-1.65 Q-3.5,-1.0 0.3,0 Z" fill="#383838" stroke="#383838" stroke-width="0.3"/>
<path transform="translate(622.80,527.60) rotate(90.0)" d="M0.3,0 Q-3.5,1.0 -6.6,1.65 Q-9.6,2.0 -9.6,0 Q-9.6,-2.0 -6.6,-1.65 Q-3.5,-1.0 0.3,0 Z" fill="#383838" stroke="#383838" stroke-width="0.3"/>
<g transform="translate(608.50,497.60) rotate(-90)"><g fill="none" stroke="#2a2a2a" stroke-width="1.65" stroke-linecap="round" stroke-linejoin="round"><path vector-effect="non-scaling-stroke" transform="translate(0.82,0.82) scale(1.0835,0.9850)" d="M0,2.2 L2.8,0 V10"/><path vector-effect="non-scaling-stroke" transform="translate(8.79,0.82) scale(0.9850,0.9850)" d="M1.85,9.4 C1.85,9.206800000000001 1.6932,9.05 1.5,9.05 C1.3068,9.05 1.15,9.206800000000001 1.15,9.4 C1.15,9.5932 1.3068,9.75 1.5,9.75 C1.6932,9.75 1.85,9.5932 1.85,9.4 Z"/><path vector-effect="non-scaling-stroke" transform="translate(14.94,0.82) scale(1.1032,0.9850)" d="M5.5,1.1 C4.9,0.4 4,0 3,0 C1.2,0 0,2.2 0,5.5 V6.9 C0,8.8 1.3,10 3,10 C4.7,10 6,8.8 6,7 C6,5.2 4.7,4 3,4 C1.3,4 0,5.2 0,7"/><path vector-effect="non-scaling-stroke" transform="translate(24.76,0.82) scale(1.1032,0.9850)" d="M3,0 C4.9,0 6,2.1 6,5 C6,7.9 4.9,10 3,10 C1.1,10 0,7.9 0,5 C0,2.1 1.1,0 3,0 Z"/></g></g>
<line x1="578.8" y1="393.4" x2="652.0" y2="393.4" stroke="#383838" stroke-width="1.45" />
<line x1="578.1" y1="568.4" x2="652.7" y2="568.4" stroke="#383838" stroke-width="1.45" />
<line x1="645.5" y1="393.4" x2="645.5" y2="568.4" stroke="#383838" stroke-width="1.45" />
<path transform="translate(645.50,393.40) rotate(-90.0)" d="M0.3,0 Q-3.5,1.0 -6.6,1.65 Q-9.6,2.0 -9.6,0 Q-9.6,-2.0 -6.6,-1.65 Q-3.5,-1.0 0.3,0 Z" fill="#383838" stroke="#383838" stroke-width="0.3"/>
<path transform="translate(645.50,568.40) rotate(90.0)" d="M0.3,0 Q-3.5,1.0 -6.6,1.65 Q-9.6,2.0 -9.6,0 Q-9.6,-2.0 -6.6,-1.65 Q-3.5,-1.0 0.3,0 Z" fill="#383838" stroke="#383838" stroke-width="0.3"/>
<g transform="translate(631.10,498.00) rotate(-90)"><g fill="none" stroke="#2a2a2a" stroke-width="1.65" stroke-linecap="round" stroke-linejoin="round"><path vector-effect="non-scaling-stroke" transform="translate(0.82,0.82) scale(1.1032,0.9850)" d="M0.3,1.6 C0.9,0.6 1.9,0 3.1,0 C4.6,0 5.7,1 5.7,2.4 C5.7,3.8 4.6,4.8 2.9,4.8 C4.8,4.8 6.1,5.8 6.1,7.4 C6.1,9 4.8,10 3.1,10 C1.8,10 0.6,9.4 0,8.4"/><path vector-effect="non-scaling-stroke" transform="translate(10.50,0.82) scale(0.9850,0.9850)" d="M1.85,9.4 C1.85,9.206800000000001 1.6932,9.05 1.5,9.05 C1.3068,9.05 1.15,9.206800000000001 1.15,9.4 C1.15,9.5932 1.3068,9.75 1.5,9.75 C1.6932,9.75 1.85,9.5932 1.85,9.4 Z"/><path vector-effect="non-scaling-stroke" transform="translate(16.39,0.82) scale(1.1032,0.9850)" d="M3,0 C4.9,0 6,2.1 6,5 C6,7.9 4.9,10 3,10 C1.1,10 0,7.9 0,5 C0,2.1 1.1,0 3,0 Z"/><path vector-effect="non-scaling-stroke" transform="translate(25.96,0.82) scale(1.1032,0.9850)" d="M3,0 C4.9,0 6,2.1 6,5 C6,7.9 4.9,10 3,10 C1.1,10 0,7.9 0,5 C0,2.1 1.1,0 3,0 Z"/></g></g>
<line x1="489.5" y1="574.9" x2="489.5" y2="617.0" stroke="#383838" stroke-width="1.45" />
<line x1="571.7" y1="574.9" x2="571.7" y2="617.0" stroke="#383838" stroke-width="1.45" />
<line x1="489.5" y1="612.3" x2="571.7" y2="612.3" stroke="#383838" stroke-width="1.45" />
<path transform="translate(489.50,612.30) rotate(180.0)" d="M0.3,0 Q-3.5,1.0 -6.6,1.65 Q-9.6,2.0 -9.6,0 Q-9.6,-2.0 -6.6,-1.65 Q-3.5,-1.0 0.3,0 Z" fill="#383838" stroke="#383838" stroke-width="0.3"/>
<path transform="translate(571.70,612.30) rotate(0.0)" d="M0.3,0 Q-3.5,1.0 -6.6,1.65 Q-9.6,2.0 -9.6,0 Q-9.6,-2.0 -6.6,-1.65 Q-3.5,-1.0 0.3,0 Z" fill="#383838" stroke="#383838" stroke-width="0.3"/>
<g fill="none" stroke="#2a2a2a" stroke-width="1.65" stroke-linecap="round" stroke-linejoin="round"><path vector-effect="non-scaling-stroke" transform="translate(515.43,598.73) scale(1.0615,0.9650)" d="M0,2.2 L2.8,0 V10"/><path vector-effect="non-scaling-stroke" transform="translate(523.16,598.73) scale(0.9650,0.9650)" d="M1.85,9.4 C1.85,9.206800000000001 1.6932,9.05 1.5,9.05 C1.3068,9.05 1.15,9.206800000000001 1.15,9.4 C1.15,9.5932 1.3068,9.75 1.5,9.75 C1.6932,9.75 1.85,9.5932 1.85,9.4 Z"/><path vector-effect="non-scaling-stroke" transform="translate(529.12,598.73) scale(1.0808,0.9650)" d="M4.4,10 V0 L0,6.6 H6.2"/><path vector-effect="non-scaling-stroke" transform="translate(538.89,598.73) scale(1.0808,0.9650)" d="M3,0 C4.9,0 6,2.1 6,5 C6,7.9 4.9,10 3,10 C1.1,10 0,7.9 0,5 C0,2.1 1.1,0 3,0 Z"/></g>
<line x1="777.0" y1="292.0" x2="777.0" y2="324.9" stroke="#383838" stroke-width="1.8" />
<line x1="751.0" y1="324.9" x2="803.7" y2="324.9" stroke="#383838" stroke-width="1.8" />
<circle cx="702.1" cy="346.5" r="11.4" fill="none" stroke="#383838" stroke-width="1.4"/>
<circle cx="853.7" cy="346.5" r="11.4" fill="none" stroke="#383838" stroke-width="1.4"/>
<line x1="713.3" y1="346.4" x2="752.3" y2="346.4" stroke="#383838" stroke-width="1.8" />
<line x1="802.9" y1="346.4" x2="842.1" y2="346.4" stroke="#383838" stroke-width="1.8" />
<circle cx="756.2" cy="346.4" r="3.9" fill="none" stroke="#383838" stroke-width="1.4"/>
<circle cx="799.0" cy="346.4" r="3.9" fill="none" stroke="#383838" stroke-width="1.4"/>
<g fill="none" stroke="#2a2a2a" stroke-width="1.65" stroke-linecap="round" stroke-linejoin="round"><path vector-effect="non-scaling-stroke" transform="translate(708.12,379.72) scale(1.1596,1.1150)" d="M7.4,1.6 C6.6,0.6 5.4,0 4.2,0 C1.8,0 0,2.2 0,5 C0,7.8 1.8,10 4.2,10 C5.4,10 6.6,9.4 7.4,8.4"/><path vector-effect="non-scaling-stroke" transform="translate(720.40,379.72) scale(1.1150,1.1150)" d="M0.3,3.3 V10 M0.3,0.5 V1.0"/><path vector-effect="non-scaling-stroke" transform="translate(724.75,379.72) scale(1.1150,1.1150)" d="M 0,2.6 V 10 M 0,5.8 C 0,3.81 1.4,2.6 3.8,2.6"/><path vector-effect="non-scaling-stroke" transform="translate(732.68,379.72) scale(1.1931,1.1150)" d="M 5.6,4.04 C 5.1,3.15 4.1,2.6 3,2.6 C 1.3,2.6 0,4.26 0,6.3 C 0,8.34 1.3,10 3,10 C 4.1,10 5.1,9.45 5.6,8.56"/><path vector-effect="non-scaling-stroke" transform="translate(743.05,379.72) scale(1.1931,1.1150)" d="M 0,2.6 V 6.69 C 0,8.67 1.1,10 2.8,10 C 4.5,10 5.6,8.67 5.6,6.69 M 5.6,2.6 V 10"/><path vector-effect="non-scaling-stroke" transform="translate(753.42,379.72) scale(1.1150,1.1150)" d="M0.3,3.3 V10 M0.3,0.5 V1.0"/><path vector-effect="non-scaling-stroke" transform="translate(757.78,379.72) scale(1.1150,1.1150)" d="M 1.4,0.3 V 8.23 C 1.4,9.34 2,10 3,10 H 3.8 M 0,2.6 H 3.8"/><path vector-effect="non-scaling-stroke" transform="translate(778.74,379.72) scale(1.1596,1.1150)" d="M0,0 V10 H3 C5.6,10 7.4,8 7.4,5 C7.4,2 5.6,0 3,0 Z"/><path vector-effect="non-scaling-stroke" transform="translate(791.01,379.72) scale(1.1150,1.1150)" d="M0.3,3.3 V10 M0.3,0.5 V1.0"/><path vector-effect="non-scaling-stroke" transform="translate(795.37,379.72) scale(1.1931,1.1150)" d="M 6.4,6.3 C 6.4,4.26 4.9664,2.6 3.2,2.6 C 1.4336,2.6 0,4.26 0,6.3 C 0,8.34 1.4336,10 3.2,10 C 4.9664,10 6.4,8.34 6.4,6.3 Z M 6.4,2.6 V 10"/><path vector-effect="non-scaling-stroke" transform="translate(806.70,379.72) scale(1.1931,1.1150)" d="M 6.4,6.3 C 6.4,4.26 4.9664,2.6 3.2,2.6 C 1.4336,2.6 0,4.26 0,6.3 C 0,8.34 1.4336,10 3.2,10 C 4.9664,10 6.4,8.34 6.4,6.3 Z M 6.4,2.6 V 10.3 C 6.4,12.1 5.1,13.3 3.2,13.3 C 2.1,13.3 1.1,12.9 0.5,12.2"/><path vector-effect="non-scaling-stroke" transform="translate(818.02,379.72) scale(1.1150,1.1150)" d="M 0,2.6 V 10 M 0,5.8 C 0,3.81 1.4,2.6 3.8,2.6"/><path vector-effect="non-scaling-stroke" transform="translate(825.95,379.72) scale(1.1931,1.1150)" d="M 6.4,6.3 C 6.4,4.26 4.9664,2.6 3.2,2.6 C 1.4336,2.6 0,4.26 0,6.3 C 0,8.34 1.4336,10 3.2,10 C 4.9664,10 6.4,8.34 6.4,6.3 Z M 6.4,2.6 V 10"/><path vector-effect="non-scaling-stroke" transform="translate(837.28,379.72) scale(1.1931,1.1150)" d="M 0,2.6 V 10 M 0,5.14 C 0,3.48 0.9,2.6 2.2,2.6 C 3.5,2.6 4.4,3.48 4.4,5.14 V 10 M 4.4,5.14 C 4.4,3.48 5.3,2.6 6.6,2.6 C 7.9,2.6 8.8,3.48 8.8,5.14 V 10"/></g>
<ellipse cx="99.5" cy="281.5" rx="4.6" ry="5.4" fill="none" stroke="#383838" stroke-width="1.3"/>
<line x1="104.1" y1="276.3" x2="104.1" y2="287.0" stroke="#383838" stroke-width="1.3" />
<ellipse cx="342.0" cy="282.0" rx="4.5" ry="5.6" fill="none" stroke="#383838" stroke-width="1.3"/>
<line x1="337.5" y1="271.8" x2="337.5" y2="287.5" stroke="#383838" stroke-width="1.3" />
<ellipse cx="700.8" cy="348.9" rx="4.6" ry="5.4" fill="none" stroke="#383838" stroke-width="1.3"/>
<line x1="705.4" y1="343.7" x2="705.4" y2="354.4" stroke="#383838" stroke-width="1.3" />
<ellipse cx="853.7" cy="348.6" rx="4.5" ry="5.6" fill="none" stroke="#383838" stroke-width="1.3"/>
<line x1="849.2" y1="338.4" x2="849.2" y2="354.1" stroke="#383838" stroke-width="1.3" />
<circle cx="203.5" cy="437.4" r="20.0" fill="none" stroke="#383838" stroke-width="1.35"/>
<circle cx="203.8" cy="530.0" r="20.2" fill="none" stroke="#383838" stroke-width="1.35"/>
<line x1="203.5" y1="398.8" x2="203.5" y2="579.0" stroke="#6a6a6a" stroke-width="1.3" stroke-dasharray="19.2 2.8 4.8 2.8"/>
<line x1="137.3" y1="437.4" x2="172.6" y2="437.4" stroke="#383838" stroke-width="1.45" />
<line x1="179.5" y1="437.4" x2="227.0" y2="437.4" stroke="#6a6a6a" stroke-width="1.3" stroke-dasharray="19.2 2.8 4.8 2.8"/>
<line x1="191.3" y1="437.4" x2="215.7" y2="437.4" stroke="#383838" stroke-width="1.3" />
<line x1="203.5" y1="419.8" x2="203.5" y2="455.6" stroke="#383838" stroke-width="1.2" />
<line x1="178.0" y1="530.0" x2="228.0" y2="530.0" stroke="#6a6a6a" stroke-width="1.3" stroke-dasharray="19.2 2.8 4.8 2.8"/>
<line x1="143.6" y1="437.4" x2="143.6" y2="536.5" stroke="#383838" stroke-width="1.45" />
<path transform="translate(143.60,437.40) rotate(-90.0)" d="M0.3,0 Q-3.5,1.0 -6.6,1.65 Q-9.6,2.0 -9.6,0 Q-9.6,-2.0 -6.6,-1.65 Q-3.5,-1.0 0.3,0 Z" fill="#383838" stroke="#383838" stroke-width="0.3"/>
<path transform="translate(143.60,536.50) rotate(90.0)" d="M0.3,0 Q-3.5,1.0 -6.6,1.65 Q-9.6,2.0 -9.6,0 Q-9.6,-2.0 -6.6,-1.65 Q-3.5,-1.0 0.3,0 Z" fill="#383838" stroke="#383838" stroke-width="0.3"/>
<line x1="115.9" y1="536.5" x2="149.9" y2="536.5" stroke="#383838" stroke-width="1.45" />
<g transform="translate(128.90,503.10) rotate(-90)"><g fill="none" stroke="#2a2a2a" stroke-width="1.65" stroke-linecap="round" stroke-linejoin="round"><path vector-effect="non-scaling-stroke" transform="translate(0.82,0.82) scale(1.0835,0.9850)" d="M0,2.2 L2.8,0 V10"/><path vector-effect="non-scaling-stroke" transform="translate(8.79,0.82) scale(0.9850,0.9850)" d="M1.85,9.4 C1.85,9.206800000000001 1.6932,9.05 1.5,9.05 C1.3068,9.05 1.15,9.206800000000001 1.15,9.4 C1.15,9.5932 1.3068,9.75 1.5,9.75 C1.6932,9.75 1.85,9.5932 1.85,9.4 Z"/><path vector-effect="non-scaling-stroke" transform="translate(14.94,0.82) scale(1.1032,0.9850)" d="M0,0 H6 L2.2,10"/><path vector-effect="non-scaling-stroke" transform="translate(24.76,0.82) scale(1.1032,0.9850)" d="M3,0 C4.9,0 6,2.1 6,5 C6,7.9 4.9,10 3,10 C1.1,10 0,7.9 0,5 C0,2.1 1.1,0 3,0 Z"/></g></g>
<defs><clipPath id="cp1"><rect x="42.6" y="510.4" width="61.6" height="52.8"/></clipPath><clipPath id="cp2"><rect x="302.8" y="510.4" width="61.6" height="52.7"/></clipPath></defs>
<path d="M-10.9,508.4 L45.9,565.2 M-0.3,508.4 L56.5,565.2 M10.3,508.4 L67.1,565.2 M20.9,508.4 L77.7,565.2 M31.5,508.4 L88.3,565.2 M42.1,508.4 L98.9,565.2 M52.7,508.4 L109.5,565.2 M63.3,508.4 L120.1,565.2 M73.9,508.4 L130.7,565.2 M84.5,508.4 L141.3,565.2 M95.1,508.4 L151.9,565.2" stroke="#383838" stroke-width="1.35" clip-path="url(#cp1)"/>
<path d="M249.3,508.4 L306.0,565.1 M259.9,508.4 L316.6,565.1 M270.5,508.4 L327.2,565.1 M281.1,508.4 L337.8,565.1 M291.7,508.4 L348.4,565.1 M302.3,508.4 L359.0,565.1 M312.9,508.4 L369.6,565.1 M323.5,508.4 L380.2,565.1 M334.1,508.4 L390.8,565.1 M344.7,508.4 L401.4,565.1 M355.3,508.4 L412.0,565.1" stroke="#383838" stroke-width="1.35" clip-path="url(#cp2)"/>
<rect x="42.6" y="510.4" width="61.6" height="52.8" fill="none" stroke="#383838" stroke-width="1.8"/>
<rect x="302.8" y="510.4" width="61.6" height="52.7" fill="none" stroke="#383838" stroke-width="1.8"/>
<line x1="38.0" y1="536.7" x2="108.0" y2="536.7" stroke="#6a6a6a" stroke-width="1.3" stroke-dasharray="19.2 2.8 4.8 2.8"/>
<line x1="298.0" y1="536.8" x2="368.0" y2="536.8" stroke="#6a6a6a" stroke-width="1.3" stroke-dasharray="19.2 2.8 4.8 2.8"/>
<line x1="271.2" y1="510.4" x2="296.6" y2="510.4" stroke="#383838" stroke-width="1.45" />
<line x1="271.2" y1="563.1" x2="296.6" y2="563.1" stroke="#383838" stroke-width="1.45" />
<line x1="277.3" y1="510.4" x2="277.3" y2="563.1" stroke="#383838" stroke-width="1.45" />
<path transform="translate(277.30,510.40) rotate(-90.0)" d="M0.3,0 Q-3.5,1.0 -6.6,1.65 Q-9.6,2.0 -9.6,0 Q-9.6,-2.0 -6.6,-1.65 Q-3.5,-1.0 0.3,0 Z" fill="#383838" stroke="#383838" stroke-width="0.3"/>
<path transform="translate(277.30,563.10) rotate(90.0)" d="M0.3,0 Q-3.5,1.0 -6.6,1.65 Q-9.6,2.0 -9.6,0 Q-9.6,-2.0 -6.6,-1.65 Q-3.5,-1.0 0.3,0 Z" fill="#383838" stroke="#383838" stroke-width="0.3"/>
<g transform="translate(262.40,553.50) rotate(-90)"><g fill="none" stroke="#2a2a2a" stroke-width="1.65" stroke-linecap="round" stroke-linejoin="round"><path vector-effect="non-scaling-stroke" transform="translate(0.82,0.82) scale(1.1032,0.9850)" d="M3,0 C4.9,0 6,2.1 6,5 C6,7.9 4.9,10 3,10 C1.1,10 0,7.9 0,5 C0,2.1 1.1,0 3,0 Z"/><path vector-effect="non-scaling-stroke" transform="translate(10.42,0.82) scale(0.9850,0.9850)" d="M1.85,9.4 C1.85,9.206800000000001 1.6932,9.05 1.5,9.05 C1.3068,9.05 1.15,9.206800000000001 1.15,9.4 C1.15,9.5932 1.3068,9.75 1.5,9.75 C1.6932,9.75 1.85,9.5932 1.85,9.4 Z"/><path vector-effect="non-scaling-stroke" transform="translate(16.36,0.82) scale(1.1032,0.9850)" d="M0.5,8.9 C1.1,9.6 2,10 3,10 C4.8,10 6,7.8 6,4.5 V3.1 C6,1.2 4.7,0 3,0 C1.3,0 0,1.2 0,3 C0,4.8 1.3,6 3,6 C4.7,6 6,4.8 6,3"/><path vector-effect="non-scaling-stroke" transform="translate(25.96,0.82) scale(1.1032,0.9850)" d="M3,0 C4.9,0 6,2.1 6,5 C6,7.9 4.9,10 3,10 C1.1,10 0,7.9 0,5 C0,2.1 1.1,0 3,0 Z"/></g></g>
<path d="M220.4,424.8 L234.2,414.0 H303.6" fill="none" stroke="#383838" stroke-width="1.45" />
<path transform="translate(220.40,424.80) rotate(142.0)" d="M0.3,0 Q-3.5,1.0 -6.6,1.65 Q-9.6,2.0 -9.6,0 Q-9.6,-2.0 -6.6,-1.65 Q-3.5,-1.0 0.3,0 Z" fill="#383838" stroke="#383838" stroke-width="0.3"/>
<g fill="none" stroke="#2a2a2a" stroke-width="1.65" stroke-linecap="round" stroke-linejoin="round"><path vector-effect="non-scaling-stroke" transform="translate(238.52,400.32) scale(0.9912,0.8850)" d="M0.2,2.7 C0.4,1.1 1.5,0 3,0 C4.6,0 5.8,1.1 5.8,2.7 C5.8,4 5.1,4.9 3.9,5.9 L0,10 H6.1"/><path vector-effect="non-scaling-stroke" transform="translate(248.92,400.32) scale(0.8850,0.8850)" d="M0,5 H8"/><path vector-effect="non-scaling-stroke" transform="translate(260.36,400.32) scale(0.8850,0.8850)" d="M5.9,6.65 C5.9,4.800800000000001 4.6008,3.3000000000000003 3,3.3000000000000003 C1.3992,3.3000000000000003 0.10000000000000009,4.800800000000001 0.10000000000000009,6.65 C0.10000000000000009,8.4992 1.3992,10.0 3,10.0 C4.6008,10.0 5.9,8.4992 5.9,6.65 Z M1.3,11 L4.7,1.8"/><path vector-effect="non-scaling-stroke" transform="translate(270.02,400.32) scale(0.9912,0.8850)" d="M3,0 C4.9,0 6,2.1 6,5 C6,7.9 4.9,10 3,10 C1.1,10 0,7.9 0,5 C0,2.1 1.1,0 3,0 Z"/><path vector-effect="non-scaling-stroke" transform="translate(280.32,400.32) scale(0.8850,0.8850)" d="M1.85,9.4 C1.85,9.206800000000001 1.6932,9.05 1.5,9.05 C1.3068,9.05 1.15,9.206800000000001 1.15,9.4 C1.15,9.5932 1.3068,9.75 1.5,9.75 C1.6932,9.75 1.85,9.5932 1.85,9.4 Z"/><path vector-effect="non-scaling-stroke" transform="translate(287.33,400.32) scale(0.9912,0.8850)" d="M0,0 H6 L2.2,10"/><path vector-effect="non-scaling-stroke" transform="translate(297.63,400.32) scale(0.9912,0.8850)" d="M3,0 C4.9,0 6,2.1 6,5 C6,7.9 4.9,10 3,10 C1.1,10 0,7.9 0,5 C0,2.1 1.1,0 3,0 Z"/></g>
<line x1="103.6" y1="570.0" x2="103.6" y2="606.0" stroke="#383838" stroke-width="1.45" />
<line x1="302.6" y1="570.0" x2="302.6" y2="606.0" stroke="#383838" stroke-width="1.45" />
<line x1="103.6" y1="600.0" x2="302.6" y2="600.0" stroke="#383838" stroke-width="1.45" />
<path transform="translate(103.60,600.00) rotate(180.0)" d="M0.3,0 Q-3.5,1.0 -6.6,1.65 Q-9.6,2.0 -9.6,0 Q-9.6,-2.0 -6.6,-1.65 Q-3.5,-1.0 0.3,0 Z" fill="#383838" stroke="#383838" stroke-width="0.3"/>
<path transform="translate(302.60,600.00) rotate(0.0)" d="M0.3,0 Q-3.5,1.0 -6.6,1.65 Q-9.6,2.0 -9.6,0 Q-9.6,-2.0 -6.6,-1.65 Q-3.5,-1.0 0.3,0 Z" fill="#383838" stroke="#383838" stroke-width="0.3"/>
<g fill="none" stroke="#2a2a2a" stroke-width="1.65" stroke-linecap="round" stroke-linejoin="round"><path vector-effect="non-scaling-stroke" transform="translate(187.72,586.12) scale(1.1816,1.0550)" d="M0.3,1.6 C0.9,0.6 1.9,0 3.1,0 C4.6,0 5.7,1 5.7,2.4 C5.7,3.8 4.6,4.8 2.9,4.8 C4.8,4.8 6.1,5.8 6.1,7.4 C6.1,9 4.8,10 3.1,10 C1.8,10 0.6,9.4 0,8.4"/><path vector-effect="non-scaling-stroke" transform="translate(197.25,586.12) scale(1.0550,1.0550)" d="M1.85,9.4 C1.85,9.206800000000001 1.6932,9.05 1.5,9.05 C1.3068,9.05 1.15,9.206800000000001 1.15,9.4 C1.15,9.5932 1.3068,9.75 1.5,9.75 C1.6932,9.75 1.85,9.5932 1.85,9.4 Z"/><path vector-effect="non-scaling-stroke" transform="translate(202.74,586.12) scale(1.1816,1.0550)" d="M4.4,10 V0 L0,6.6 H6.2"/><path vector-effect="non-scaling-stroke" transform="translate(212.39,586.12) scale(1.1816,1.0550)" d="M3,0 C4.9,0 6,2.1 6,5 C6,7.9 4.9,10 3,10 C1.1,10 0,7.9 0,5 C0,2.1 1.1,0 3,0 Z"/></g>
<line x1="42.5" y1="570.0" x2="42.5" y2="639.0" stroke="#383838" stroke-width="1.45" />
<line x1="364.5" y1="570.0" x2="364.5" y2="639.0" stroke="#383838" stroke-width="1.45" />
<line x1="42.5" y1="633.3" x2="364.5" y2="633.3" stroke="#383838" stroke-width="1.45" />
<path transform="translate(42.50,633.30) rotate(180.0)" d="M0.3,0 Q-3.5,1.0 -6.6,1.65 Q-9.6,2.0 -9.6,0 Q-9.6,-2.0 -6.6,-1.65 Q-3.5,-1.0 0.3,0 Z" fill="#383838" stroke="#383838" stroke-width="0.3"/>
<path transform="translate(364.50,633.30) rotate(0.0)" d="M0.3,0 Q-3.5,1.0 -6.6,1.65 Q-9.6,2.0 -9.6,0 Q-9.6,-2.0 -6.6,-1.65 Q-3.5,-1.0 0.3,0 Z" fill="#383838" stroke="#383838" stroke-width="0.3"/>
<g fill="none" stroke="#2a2a2a" stroke-width="1.65" stroke-linecap="round" stroke-linejoin="round"><path vector-effect="non-scaling-stroke" transform="translate(187.72,619.53) scale(1.1368,1.0150)" d="M5.6,0 H1 L0.5,4.4 C1.2,3.9 2.1,3.6 3,3.6 C4.8,3.6 6,4.9 6,6.8 C6,8.7 4.7,10 3,10 C1.7,10 0.6,9.4 0,8.4"/><path vector-effect="non-scaling-stroke" transform="translate(197.29,619.53) scale(1.0150,1.0150)" d="M1.85,9.4 C1.85,9.206800000000001 1.6932,9.05 1.5,9.05 C1.3068,9.05 1.15,9.206800000000001 1.15,9.4 C1.15,9.5932 1.3068,9.75 1.5,9.75 C1.6932,9.75 1.85,9.5932 1.85,9.4 Z"/><path vector-effect="non-scaling-stroke" transform="translate(203.09,619.53) scale(1.1368,1.0150)" d="M5.6,0 H1 L0.5,4.4 C1.2,3.9 2.1,3.6 3,3.6 C4.8,3.6 6,4.9 6,6.8 C6,8.7 4.7,10 3,10 C1.7,10 0.6,9.4 0,8.4"/><path vector-effect="non-scaling-stroke" transform="translate(212.65,619.53) scale(1.1368,1.0150)" d="M3,0 C4.9,0 6,2.1 6,5 C6,7.9 4.9,10 3,10 C1.1,10 0,7.9 0,5 C0,2.1 1.1,0 3,0 Z"/></g>
<g fill="none" stroke="#2a2a2a" stroke-width="1.65" stroke-linecap="round" stroke-linejoin="round"><path vector-effect="non-scaling-stroke" transform="translate(77.73,651.03) scale(1.1180,1.0750)" d="M0,10 V0 H3.6 C5.4,0 6.6,1.2 6.6,2.9 C6.6,4.6 5.4,5.8 3.6,5.8 H0"/><path vector-effect="non-scaling-stroke" transform="translate(88.87,651.03) scale(1.1180,1.0750)" d="M7.4,1.6 C6.6,0.6 5.4,0 4.2,0 C1.8,0 0,2.2 0,5 C0,7.8 1.8,10 4.2,10 C5.4,10 6.6,9.4 7.4,8.4"/><path vector-effect="non-scaling-stroke" transform="translate(100.92,651.03) scale(1.1180,1.0750)" d="M0,10 V0 H3.6 C5,0 6,1 6,2.4 C6,3.8 5,4.8 3.6,4.8 H0 M3.6,4.8 H4 C5.6,4.8 6.6,5.9 6.6,7.4 C6.6,8.9 5.6,10 4,10 H0"/><path vector-effect="non-scaling-stroke" transform="translate(124.42,651.03) scale(1.0750,1.0750)" d="M0,0 V10 H5.8"/><path vector-effect="non-scaling-stroke" transform="translate(134.43,651.03) scale(1.1502,1.0750)" d="M 6.4,6.3 C 6.4,4.26 4.9664,2.6 3.2,2.6 C 1.4336,2.6 0,4.26 0,6.3 C 0,8.34 1.4336,10 3.2,10 C 4.9664,10 6.4,8.34 6.4,6.3 Z M 6.4,2.6 V 10"/><path vector-effect="non-scaling-stroke" transform="translate(145.56,651.03) scale(1.0750,1.0750)" d="M 0,2.6 L 3,10 M 5.8,2.6 L 2,13.3"/><path vector-effect="non-scaling-stroke" transform="translate(155.57,651.03) scale(1.1502,1.0750)" d="M 6.4,6.3 C 6.4,4.26 4.9664,2.6 3.2,2.6 C 1.4336,2.6 0,4.26 0,6.3 C 0,8.34 1.4336,10 3.2,10 C 4.9664,10 6.4,8.34 6.4,6.3 Z"/><path vector-effect="non-scaling-stroke" transform="translate(166.70,651.03) scale(1.1502,1.0750)" d="M 0,2.6 V 6.69 C 0,8.67 1.1,10 2.8,10 C 4.5,10 5.6,8.67 5.6,6.69 M 5.6,2.6 V 10"/><path vector-effect="non-scaling-stroke" transform="translate(176.91,651.03) scale(1.0750,1.0750)" d="M 1.4,0.3 V 8.23 C 1.4,9.34 2,10 3,10 H 3.8 M 0,2.6 H 3.8"/><path vector-effect="non-scaling-stroke" transform="translate(184.77,651.03) scale(1.0750,1.0750)" d="M2.4,-0.3 C0.8,1.6 0,3.9 0,6.3 C0,8.7 0.8,11 2.4,12.9"/><path vector-effect="non-scaling-stroke" transform="translate(191.12,651.03) scale(1.1180,1.0750)" d="M0,10 V0 H3.6 C5.4,0 6.6,1.2 6.6,2.9 C6.6,4.6 5.4,5.8 3.6,5.8 H0"/><path vector-effect="non-scaling-stroke" transform="translate(202.27,651.03) scale(1.1502,1.0750)" d="M 6.4,6.3 C 6.4,4.26 4.9664,2.6 3.2,2.6 C 1.4336,2.6 0,4.26 0,6.3 C 0,8.34 1.4336,10 3.2,10 C 4.9664,10 6.4,8.34 6.4,6.3 Z M 6.4,2.6 V 10"/><path vector-effect="non-scaling-stroke" transform="translate(213.40,651.03) scale(1.0750,1.0750)" d="M 1.4,0.3 V 8.23 C 1.4,9.34 2,10 3,10 H 3.8 M 0,2.6 H 3.8"/><path vector-effect="non-scaling-stroke" transform="translate(221.26,651.03) scale(1.0750,1.0750)" d="M 1.4,0.3 V 8.23 C 1.4,9.34 2,10 3,10 H 3.8 M 0,2.6 H 3.8"/><path vector-effect="non-scaling-stroke" transform="translate(229.11,651.03) scale(1.1502,1.0750)" d="M 0,6.3 H 6 C 6,4.26 4.7,2.6 3,2.6 C 1.3,2.6 0,4.26 0,6.3 C 0,8.34 1.3,10 3,10 C 4.2,10 5.2,9.34 5.7,8.45"/><path vector-effect="non-scaling-stroke" transform="translate(239.78,651.03) scale(1.0750,1.0750)" d="M 0,2.6 V 10 M 0,5.8 C 0,3.81 1.4,2.6 3.8,2.6"/><path vector-effect="non-scaling-stroke" transform="translate(247.64,651.03) scale(1.1502,1.0750)" d="M 0,2.6 V 10 M 0,5.91 C 0,3.93 1.2,2.6 2.9,2.6 C 4.6,2.6 5.6,3.93 5.6,5.91 V 10"/><path vector-effect="non-scaling-stroke" transform="translate(270.21,651.03) scale(1.1502,1.0750)" d="M 5,3.59 C 4.6,2.93 3.8,2.6 2.7,2.6 C 1.3,2.6 0.4,3.26 0.4,4.37 C 0.4,5.58 1.4,6.02 2.7,6.24 C 4.2,6.47 5.3,7.02 5.3,8.23 C 5.3,9.34 4.2,10 2.7,10 C 1.5,10 0.5,9.56 0,8.79"/><path vector-effect="non-scaling-stroke" transform="translate(280.07,651.03) scale(1.0750,1.0750)" d="M0.3,3.3 V10 M0.3,0.5 V1.0"/><path vector-effect="non-scaling-stroke" transform="translate(284.49,651.03) scale(1.1502,1.0750)" d="M 6.4,6.3 C 6.4,4.26 4.9664,2.6 3.2,2.6 C 1.4336,2.6 0,4.26 0,6.3 C 0,8.34 1.4336,10 3.2,10 C 4.9664,10 6.4,8.34 6.4,6.3 Z M 6.4,0 V 10"/><path vector-effect="non-scaling-stroke" transform="translate(295.62,651.03) scale(1.1502,1.0750)" d="M 0,6.3 H 6 C 6,4.26 4.7,2.6 3,2.6 C 1.3,2.6 0,4.26 0,6.3 C 0,8.34 1.3,10 3,10 C 4.2,10 5.2,9.34 5.7,8.45"/><path vector-effect="non-scaling-stroke" transform="translate(306.30,651.03) scale(1.0750,1.0750)" d="M0,-0.3 C1.6,1.6 2.4,3.9 2.4,6.3 C2.4,8.7 1.6,11 0,12.9"/></g>
</svg></body></html>
